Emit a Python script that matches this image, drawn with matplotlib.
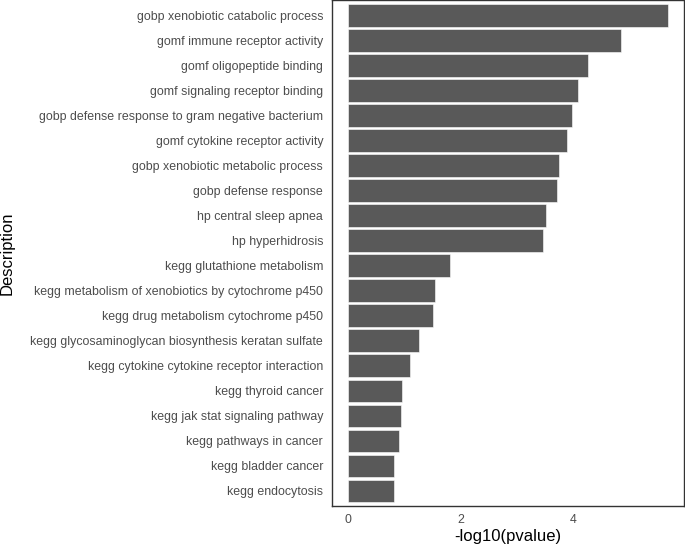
import matplotlib
matplotlib.use("Agg")
import matplotlib.pyplot as plt

plt.rcParams['font.family'] = ['Liberation Sans', 'DejaVu Sans']

descriptions = [
    "gobp xenobiotic catabolic process",
    "gomf immune receptor activity",
    "gomf oligopeptide binding",
    "gomf signaling receptor binding",
    "gobp defense response to gram negative bacterium",
    "gomf cytokine receptor activity",
    "gobp xenobiotic metabolic process",
    "gobp defense response",
    "hp central sleep apnea",
    "hp hyperhidrosis",
    "kegg glutathione metabolism",
    "kegg metabolism of xenobiotics by cytochrome p450",
    "kegg drug metabolism cytochrome p450",
    "kegg glycosaminoglycan biosynthesis keratan sulfate",
    "kegg cytokine cytokine receptor interaction",
    "kegg thyroid cancer",
    "kegg jak stat signaling pathway",
    "kegg pathways in cancer",
    "kegg bladder cancer",
    "kegg endocytosis",
]
neglog_p = [5.67, 4.84, 4.25, 4.07, 3.98, 3.89, 3.75, 3.71, 3.52, 3.46,
            1.82, 1.54, 1.52, 1.26, 1.11, 0.97, 0.94, 0.91, 0.83, 0.82]
xticks = [0, 2, 4]

fig = plt.figure(figsize=(6.85, 5.44), dpi=100)
ax = fig.add_axes([0.484, 0.070, 0.5145, 0.9295])

ypos = list(range(len(descriptions)))[::-1]
ax.barh(ypos, neglog_p, height=0.9, color='#595959', edgecolor='white', linewidth=0.4)

xmax = max(neglog_p)
ax.set_xlim(-0.05 * xmax, xmax * 1.05)
ax.set_ylim(-0.6, len(descriptions) - 0.4)

ax.set_yticks(ypos)
ax.set_yticklabels(descriptions)
ax.set_xticks(xticks)
ax.tick_params(axis='both', length=0, labelsize=8.9, colors='#4d4d4d', pad=6)
ax.set_xlabel("-log10(pvalue)", fontsize=12, labelpad=2)
for s in ax.spines.values():
    s.set_color('#333333')
    s.set_linewidth(1.0)

fig.text(0.011, 0.535, "Description", rotation=90, fontsize=12,
         ha='center', va='center')

fig.savefig("out.png", dpi=100)
